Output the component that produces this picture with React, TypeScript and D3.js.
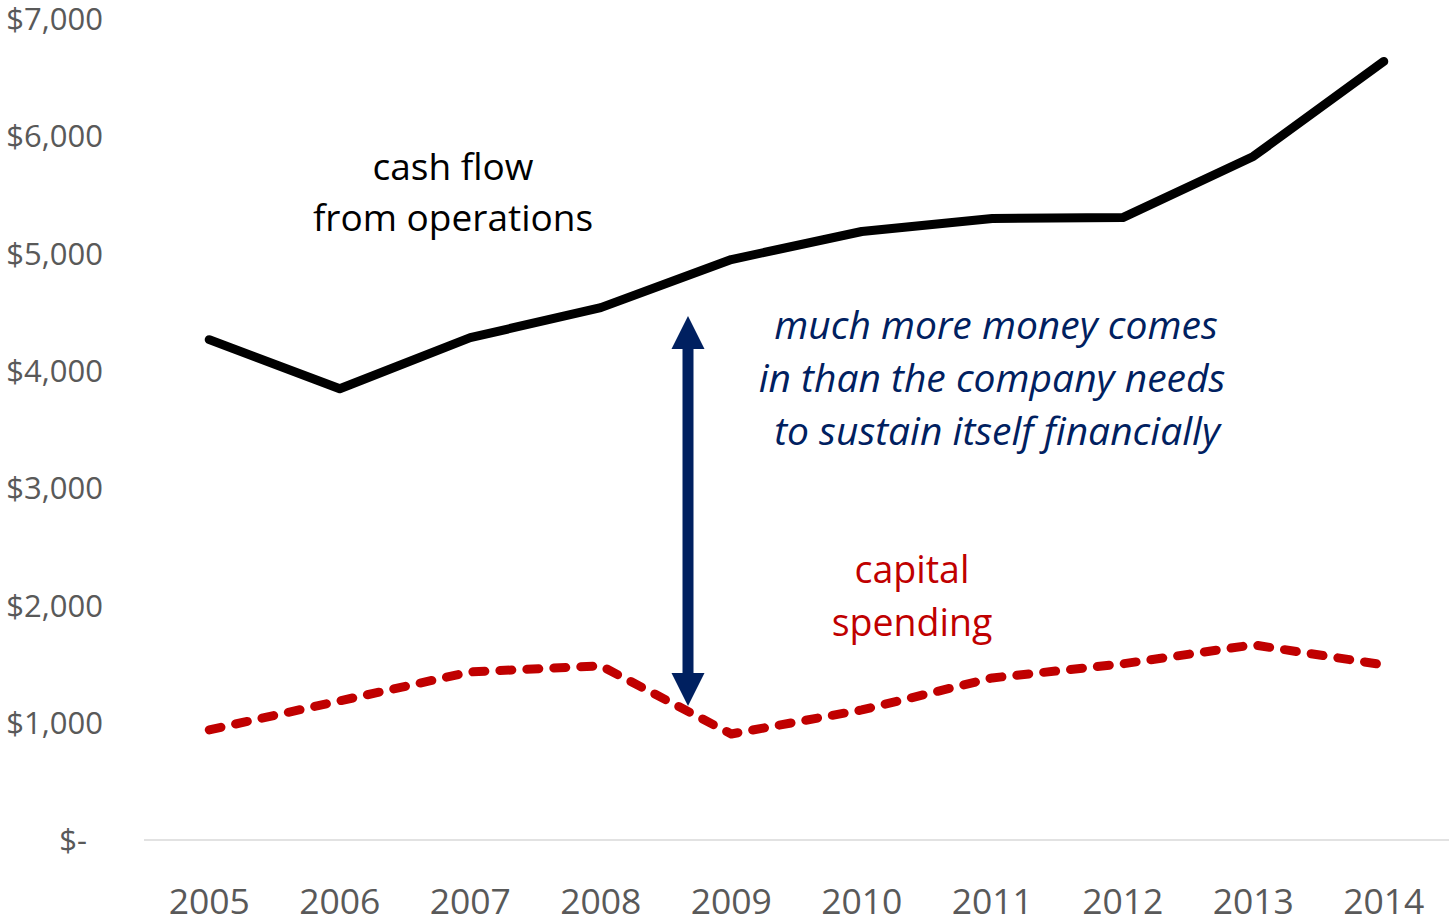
import React from "react";
import * as d3 from "d3";

const years = ["2005", "2006", "2007", "2008", "2009", "2010", "2011", "2012", "2013", "2014"];
const cashFlow = [4266, 3848, 4283, 4539, 4949, 5188, 5299, 5307, 5828, 6638];
const capitalSpending = [939, 1186, 1433, 1485, 904, 1109, 1382, 1502, 1664, 1493];
const yTicks = [0, 1000, 2000, 3000, 4000, 5000, 6000, 7000];

const W = 1449;
const H = 923;

export default function App() {
  const x = d3.scaleBand<string>().domain(years).range([144, 1449]);
  const y = d3.scaleLinear().domain([0, 7000]).range([840, 19]);
  const cx = (d: string) => (x(d) as number) + x.bandwidth() / 2;
  const line = d3
    .line<number>()
    .x((_, i) => cx(years[i]))
    .y((v) => y(v));
  const fmt = (v: number) => (v === 0 ? "$-" : "$" + d3.format(",")(v));
  const font = "'Open Sans', sans-serif";
  const arrowX = 688;
  const arrowTop = 316;
  const arrowBot = 706;
  return (
    <svg width={W} height={H} style={{ position: "absolute", left: 0, top: 0 }}>
      <rect width={W} height={H} fill="#fff" />
      <line x1={144} x2={1449} y1={y(0)} y2={y(0)} stroke="#d9d9d9" strokeWidth={1.5} />
      {yTicks.map((t) => (
        <text
          key={t}
          x={t === 0 ? 87 : 103}
          y={y(t)}
          dy="0.36em"
          textAnchor="end"
          fontFamily={font}
          fontSize={31}
          fill="#595959"
        >
          {fmt(t)}
        </text>
      ))}
      {years.map((yr) => (
        <text key={yr} x={cx(yr)} y={914} textAnchor="middle" fontFamily={font} fontSize={35.5} fill="#595959">
          {yr}
        </text>
      ))}
      <path d={line(cashFlow) || ""} fill="none" stroke="#000" strokeWidth={9} strokeLinecap="round" strokeLinejoin="round" />
      <path
        d={line(capitalSpending) || ""}
        fill="none"
        stroke="#c00000"
        strokeWidth={9}
        strokeLinecap="round"
        strokeLinejoin="round"
        strokeDasharray="12 15"
      />
      {/* double arrow */}
      <rect x={arrowX - 5.5} y={arrowTop + 30} width={11} height={arrowBot - arrowTop - 60} fill="#002060" />
      <path d={`M${arrowX},${arrowTop} L${arrowX + 16.5},${arrowTop + 33} L${arrowX - 16.5},${arrowTop + 33} Z`} fill="#002060" />
      <path d={`M${arrowX},${arrowBot} L${arrowX + 16.5},${arrowBot - 33} L${arrowX - 16.5},${arrowBot - 33} Z`} fill="#002060" />
      <g fontFamily={font} fontSize={37} fill="#000" textAnchor="middle">
        <text x={453} y={180}>cash flow</text>
        <text x={453} y={231}>from operations</text>
      </g>
      <g fontFamily={font} fontSize={39} fill="#002060" textAnchor="middle" fontStyle="italic">
        <text x={996} y={339}>much more money comes</text>
        <text x={992} y={392}>in than the company needs</text>
        <text x={997} y={445}>to sustain itself financially</text>
      </g>
      <g fontFamily={font} fontSize={37.5} fill="#c00000" textAnchor="middle">
        <text x={912} y={583}>capital</text>
        <text x={912} y={636}>spending</text>
      </g>
    </svg>
  );
}
